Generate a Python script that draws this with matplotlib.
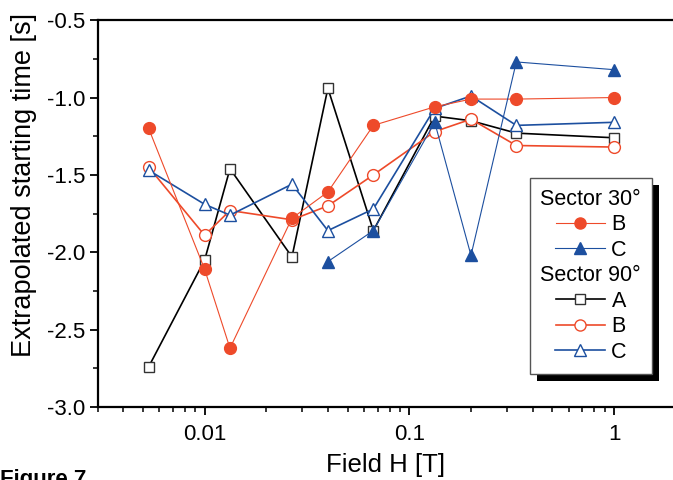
import matplotlib
matplotlib.use("Agg")
import matplotlib.pyplot as plt
from matplotlib.lines import Line2D
from matplotlib.patches import Rectangle
from matplotlib.ticker import FixedLocator, FixedFormatter, LogLocator, NullFormatter, MultipleLocator

plt.rcParams['font.family'] = ['Liberation Sans', 'DejaVu Sans']
plt.rcParams['axes.unicode_minus'] = False

# field values [T]
field = [0.00533, 0.01, 0.0133, 0.0267, 0.04, 0.0667, 0.133, 0.2, 0.333, 1.0]
field_c30 = [0.04, 0.0667, 0.133, 0.2, 0.333, 1.0]

# extrapolated starting time [s]
a90 = [-2.74, -2.05, -1.46, -2.03, -0.94, -1.86, -1.12, -1.15, -1.23, -1.26]
b90 = [-1.45, -1.89, -1.73, -1.79, -1.70, -1.50, -1.22, -1.14, -1.31, -1.32]
c90 = [-1.47, -1.69, -1.76, -1.56, -1.86, -1.72, -1.07, -0.99, -1.18, -1.16]
b30 = [-1.20, -2.11, -2.62, -1.78, -1.61, -1.18, -1.06, -1.01, -1.01, -1.00]
c30 = [-2.06, -1.86, -1.16, -2.02, -0.77, -0.82]

xticks = [0.01, 0.1, 1]
xtick_labels = ['0.01', '0.1', '1']

RED = '#ee4a2a'
BLUE = '#1c4f9f'

fig = plt.figure(figsize=(6.73, 4.8), dpi=100)
ax = fig.add_axes([0.145, 0.152, 0.855, 0.806])
ax.patch.set_alpha(0)

# sector 90 (open markers, thicker lines)
ax.plot(field, a90, '-s', color='black', lw=1.2, ms=6.5, mfc='white', mec='#333333', mew=1.0)
ax.plot(field, b90, '-o', color=RED, lw=1.2, ms=8.5, mfc='white', mec=RED, mew=1.0)
ax.plot(field, c90, '-^', color=BLUE, lw=1.2, ms=9, mfc='white', mec=BLUE, mew=1.0)
# sector 30 (filled markers, thin lines)
ax.plot(field, b30, '-o', color=RED, lw=0.8, ms=8.5, mfc=RED, mec=RED)
ax.plot(field_c30, c30, '-^', color=BLUE, lw=0.8, ms=8.5, mfc=BLUE, mec=BLUE)

ax.set_xscale('log')
ax.set_xlim(0.003, 1.94)
ax.set_ylim(-3.0, -0.5)

ax.xaxis.set_major_locator(FixedLocator(xticks))
ax.xaxis.set_major_formatter(FixedFormatter(xtick_labels))
ax.xaxis.set_minor_locator(LogLocator(base=10, subs=range(2, 10), numticks=20))
ax.xaxis.set_minor_formatter(NullFormatter())
ax.yaxis.set_major_locator(MultipleLocator(0.5))
ax.yaxis.set_minor_locator(MultipleLocator(0.25))
ax.yaxis.set_major_formatter(plt.FuncFormatter(lambda v, p: '%.1f' % v))

ax.spines['right'].set_visible(False)
for s in ['left', 'bottom', 'top']:
    ax.spines[s].set_linewidth(1.6)
ax.tick_params(which='major', direction='out', length=6, width=1.3, labelsize=16)
ax.tick_params(which='minor', direction='out', length=3.5, width=1.1)
ax.tick_params(axis='x', which='major', pad=6)
ax.tick_params(axis='y', which='major', pad=3)

ax.set_xlabel('Field H [T]', fontsize=18.5, labelpad=6)
ax.set_ylabel('Extrapolated starting time [s]', fontsize=19.5)
ax.yaxis.set_label_coords(-0.106, 0.575)

# legend with header rows
blank = Line2D([], [], linestyle='none')
handles = [
    blank,
    Line2D([], [], color=RED, lw=0.8, marker='o', ms=8, mfc=RED, mec=RED),
    Line2D([], [], color=BLUE, lw=0.8, marker='^', ms=8.5, mfc=BLUE, mec=BLUE),
    blank,
    Line2D([], [], color='black', lw=1.2, marker='s', ms=6.5, mfc='white', mec='#333333'),
    Line2D([], [], color=RED, lw=1.2, marker='o', ms=8, mfc='white', mec=RED),
    Line2D([], [], color=BLUE, lw=1.2, marker='^', ms=9, mfc='white', mec=BLUE),
]
labels = ['Sector 30°', 'B', 'C', 'Sector 90°', 'A', 'B', 'C']
leg = ax.legend(handles, labels, loc='upper left', bbox_to_anchor=(0.751, 0.592),
                borderaxespad=0, fontsize=15.5, frameon=True, fancybox=False, framealpha=1,
                edgecolor='#555555', handlelength=2.3, handletextpad=0.3,
                labelspacing=0.21, borderpad=0.5)
leg.get_frame().set_linewidth(1.0)
col = leg._legend_handle_box.get_children()[0]
col.align = 'center'
for row, lab in zip(col.get_children(), labels):
    if lab.startswith('Sector'):
        row.get_children()[0].width = 0
        row.sep = 0

# black drop shadow behind the legend
fig.canvas.draw()
bb = leg.get_window_extent().transformed(fig.transFigure.inverted())
dx, dy = 7 / 673, 7 / 480
shadow = Rectangle((bb.x0 + dx, bb.y0 - dy), bb.width, bb.height, transform=fig.transFigure,
                   facecolor='black', edgecolor='none', zorder=4.5, clip_on=False)
ax.add_patch(shadow)

fig.text(0.0, 0.022, 'Figure 7', fontsize=16, fontweight='bold', va='top', ha='left')

fig.savefig('out.png', dpi=100)
